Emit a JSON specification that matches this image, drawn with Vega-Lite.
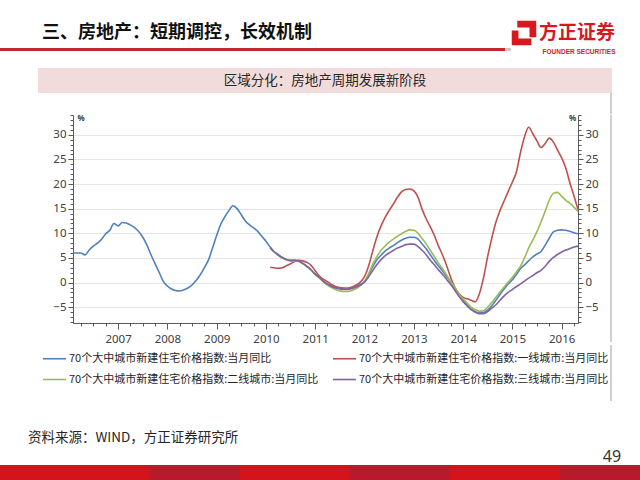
{
  "$schema": "https://vega.github.io/schema/vega-lite/v6.json",
  "background": "white",
  "padding": 0,
  "spacing": 0,
  "bounds": "full",
  "config": {"view": {"stroke": null}, "font": "Noto Sans CJK SC"},
  "datasets": {
    "blue": [
      {"d":"2006-02","v":6.0},{"d":"2006-03","v":6.0},{"d":"2006-04","v":6.0},{"d":"2006-05","v":5.6},{"d":"2006-06","v":6.6},{"d":"2006-07","v":7.4},{"d":"2006-08","v":8.0},{"d":"2006-09","v":8.8},{"d":"2006-10","v":9.9},{"d":"2006-11","v":10.6},{"d":"2006-12","v":12.0},
      {"d":"2007-01","v":11.5},{"d":"2007-02","v":12.2},{"d":"2007-03","v":12.1},{"d":"2007-04","v":11.7},{"d":"2007-05","v":11.2},{"d":"2007-06","v":10.4},{"d":"2007-07","v":9.3},{"d":"2007-08","v":7.7},{"d":"2007-09","v":5.7},{"d":"2007-10","v":3.9},{"d":"2007-11","v":2.1},{"d":"2007-12","v":0.3},
      {"d":"2008-01","v":-0.7},{"d":"2008-02","v":-1.3},{"d":"2008-03","v":-1.6},{"d":"2008-04","v":-1.7},{"d":"2008-05","v":-1.5},{"d":"2008-06","v":-1.1},{"d":"2008-07","v":-0.5},{"d":"2008-08","v":0.4},{"d":"2008-09","v":1.6},{"d":"2008-10","v":3.0},{"d":"2008-11","v":4.6},{"d":"2008-12","v":7.0},
      {"d":"2009-01","v":9.6},{"d":"2009-02","v":11.9},{"d":"2009-03","v":13.3},{"d":"2009-04","v":14.6},{"d":"2009-05","v":15.6},{"d":"2009-06","v":15.0},{"d":"2009-07","v":13.8},{"d":"2009-08","v":12.5},{"d":"2009-09","v":11.7},{"d":"2009-10","v":11.1},{"d":"2009-11","v":10.4},{"d":"2009-12","v":9.4},
      {"d":"2010-01","v":8.4},{"d":"2010-02","v":7.2},{"d":"2010-03","v":6.3},{"d":"2010-04","v":5.7},{"d":"2010-05","v":5.1},{"d":"2010-06","v":4.7},{"d":"2010-07","v":4.5},{"d":"2010-08","v":4.5},{"d":"2010-09","v":4.4},{"d":"2010-10","v":3.9},{"d":"2010-11","v":3.3},{"d":"2010-12","v":2.6},
      {"d":"2011-01","v":1.7},{"d":"2011-02","v":1.0},{"d":"2011-03","v":0.3},{"d":"2011-04","v":-0.3},{"d":"2011-05","v":-0.7},{"d":"2011-06","v":-1.0},{"d":"2011-07","v":-1.2},{"d":"2011-08","v":-1.3},{"d":"2011-09","v":-1.3},{"d":"2011-10","v":-1.1},{"d":"2011-11","v":-0.8},{"d":"2011-12","v":-0.4},
      {"d":"2012-01","v":0.2},{"d":"2012-02","v":1.6},{"d":"2012-03","v":3.2},{"d":"2012-04","v":4.6},{"d":"2012-05","v":5.5},{"d":"2012-06","v":6.4},{"d":"2012-07","v":7.0},{"d":"2012-08","v":7.5},{"d":"2012-09","v":8.1},{"d":"2012-10","v":8.6},{"d":"2012-11","v":9.0},{"d":"2012-12","v":9.2},
      {"d":"2013-01","v":9.2},{"d":"2013-02","v":8.8},{"d":"2013-03","v":7.9},{"d":"2013-04","v":6.9},{"d":"2013-05","v":5.7},{"d":"2013-06","v":4.5},{"d":"2013-07","v":3.4},{"d":"2013-08","v":2.4},{"d":"2013-09","v":1.2},{"d":"2013-10","v":0.0},{"d":"2013-11","v":-1.2},{"d":"2013-12","v":-2.5},
      {"d":"2014-01","v":-3.6},{"d":"2014-02","v":-4.6},{"d":"2014-03","v":-5.4},{"d":"2014-04","v":-5.9},{"d":"2014-05","v":-6.2},{"d":"2014-06","v":-6.1},{"d":"2014-07","v":-5.6},{"d":"2014-08","v":-4.7},{"d":"2014-09","v":-3.6},{"d":"2014-10","v":-2.4},{"d":"2014-11","v":-1.3},{"d":"2014-12","v":-0.3},
      {"d":"2015-01","v":0.6},{"d":"2015-02","v":1.7},{"d":"2015-03","v":2.8},{"d":"2015-04","v":3.6},{"d":"2015-05","v":4.4},{"d":"2015-06","v":5.2},{"d":"2015-07","v":5.8},{"d":"2015-08","v":6.3},{"d":"2015-09","v":7.6},{"d":"2015-10","v":9.0},{"d":"2015-11","v":10.3},{"d":"2015-12","v":10.6},
      {"d":"2016-01","v":10.7},{"d":"2016-02","v":10.6},{"d":"2016-03","v":10.4},{"d":"2016-04","v":10.1},{"d":"2016-05","v":9.9}
    ],
    "red": [
      {"d":"2010-02","v":3.1},{"d":"2010-03","v":3.0},{"d":"2010-04","v":2.9},{"d":"2010-05","v":3.0},{"d":"2010-06","v":3.4},{"d":"2010-07","v":3.8},{"d":"2010-08","v":4.3},{"d":"2010-09","v":4.5},{"d":"2010-10","v":4.4},{"d":"2010-11","v":4.1},{"d":"2010-12","v":3.5},
      {"d":"2011-01","v":2.4},{"d":"2011-02","v":1.3},{"d":"2011-03","v":0.7},{"d":"2011-04","v":0.2},{"d":"2011-05","v":-0.4},{"d":"2011-06","v":-0.8},{"d":"2011-07","v":-1.0},{"d":"2011-08","v":-1.1},{"d":"2011-09","v":-1.1},{"d":"2011-10","v":-0.9},{"d":"2011-11","v":-0.5},{"d":"2011-12","v":0.1},
      {"d":"2012-01","v":1.2},{"d":"2012-02","v":3.4},{"d":"2012-03","v":6.3},{"d":"2012-04","v":9.2},{"d":"2012-05","v":11.4},{"d":"2012-06","v":13.2},{"d":"2012-07","v":14.6},{"d":"2012-08","v":15.9},{"d":"2012-09","v":17.3},{"d":"2012-10","v":18.4},{"d":"2012-11","v":18.9},{"d":"2012-12","v":19.0},
      {"d":"2013-01","v":18.6},{"d":"2013-02","v":17.3},{"d":"2013-03","v":15.0},{"d":"2013-04","v":13.0},{"d":"2013-05","v":11.4},{"d":"2013-06","v":9.6},{"d":"2013-07","v":7.5},{"d":"2013-08","v":5.6},{"d":"2013-09","v":3.4},{"d":"2013-10","v":1.0},{"d":"2013-11","v":-1.0},{"d":"2013-12","v":-2.2},
      {"d":"2014-01","v":-3.0},{"d":"2014-02","v":-3.3},{"d":"2014-03","v":-3.6},{"d":"2014-04","v":-3.9},{"d":"2014-05","v":-2.3},{"d":"2014-06","v":1.0},{"d":"2014-07","v":5.2},{"d":"2014-08","v":9.0},{"d":"2014-09","v":12.3},{"d":"2014-10","v":14.6},{"d":"2014-11","v":16.6},{"d":"2014-12","v":18.5},
      {"d":"2015-01","v":20.4},{"d":"2015-02","v":22.6},{"d":"2015-03","v":26.3},{"d":"2015-04","v":29.6},{"d":"2015-05","v":31.5},{"d":"2015-06","v":30.2},{"d":"2015-07","v":28.8},{"d":"2015-08","v":27.4},{"d":"2015-09","v":28.2},{"d":"2015-10","v":29.3},{"d":"2015-11","v":28.5},{"d":"2015-12","v":26.9},
      {"d":"2016-01","v":25.3},{"d":"2016-02","v":23.2},{"d":"2016-03","v":20.3},{"d":"2016-04","v":17.6},{"d":"2016-05","v":14.8}
    ],
    "green": [
      {"d":"2010-02","v":7.0},{"d":"2010-03","v":6.2},{"d":"2010-04","v":5.5},{"d":"2010-05","v":5.0},{"d":"2010-06","v":4.6},{"d":"2010-07","v":4.4},{"d":"2010-08","v":4.4},{"d":"2010-09","v":4.3},{"d":"2010-10","v":3.8},{"d":"2010-11","v":3.2},{"d":"2010-12","v":2.5},
      {"d":"2011-01","v":1.6},{"d":"2011-02","v":0.9},{"d":"2011-03","v":0.2},{"d":"2011-04","v":-0.5},{"d":"2011-05","v":-1.0},{"d":"2011-06","v":-1.4},{"d":"2011-07","v":-1.7},{"d":"2011-08","v":-1.8},{"d":"2011-09","v":-1.8},{"d":"2011-10","v":-1.6},{"d":"2011-11","v":-1.2},{"d":"2011-12","v":-0.6},
      {"d":"2012-01","v":0.2},{"d":"2012-02","v":1.8},{"d":"2012-03","v":3.7},{"d":"2012-04","v":5.2},{"d":"2012-05","v":6.5},{"d":"2012-06","v":7.4},{"d":"2012-07","v":8.2},{"d":"2012-08","v":8.8},{"d":"2012-09","v":9.4},{"d":"2012-10","v":9.9},{"d":"2012-11","v":10.4},{"d":"2012-12","v":10.7},
      {"d":"2013-01","v":10.6},{"d":"2013-02","v":10.0},{"d":"2013-03","v":9.0},{"d":"2013-04","v":7.9},{"d":"2013-05","v":6.6},{"d":"2013-06","v":5.3},{"d":"2013-07","v":4.0},{"d":"2013-08","v":2.8},{"d":"2013-09","v":1.5},{"d":"2013-10","v":0.2},{"d":"2013-11","v":-1.0},{"d":"2013-12","v":-2.3},
      {"d":"2014-01","v":-3.3},{"d":"2014-02","v":-4.2},{"d":"2014-03","v":-5.0},{"d":"2014-04","v":-5.5},{"d":"2014-05","v":-5.8},{"d":"2014-06","v":-5.7},{"d":"2014-07","v":-5.0},{"d":"2014-08","v":-4.0},{"d":"2014-09","v":-3.0},{"d":"2014-10","v":-1.9},{"d":"2014-11","v":-0.9},{"d":"2014-12","v":0.1},
      {"d":"2015-01","v":1.1},{"d":"2015-02","v":2.2},{"d":"2015-03","v":3.3},{"d":"2015-04","v":5.0},{"d":"2015-05","v":7.0},{"d":"2015-06","v":8.6},{"d":"2015-07","v":10.3},{"d":"2015-08","v":12.3},{"d":"2015-09","v":14.5},{"d":"2015-10","v":16.7},{"d":"2015-11","v":18.1},{"d":"2015-12","v":18.3},
      {"d":"2016-01","v":17.5},{"d":"2016-02","v":16.7},{"d":"2016-03","v":16.1},{"d":"2016-04","v":15.3},{"d":"2016-05","v":14.4}
    ],
    "purple": [
      {"d":"2010-02","v":7.1},{"d":"2010-03","v":6.3},{"d":"2010-04","v":5.6},{"d":"2010-05","v":5.1},{"d":"2010-06","v":4.7},{"d":"2010-07","v":4.5},{"d":"2010-08","v":4.5},{"d":"2010-09","v":4.4},{"d":"2010-10","v":3.9},{"d":"2010-11","v":3.3},{"d":"2010-12","v":2.6},
      {"d":"2011-01","v":1.7},{"d":"2011-02","v":1.0},{"d":"2011-03","v":0.3},{"d":"2011-04","v":-0.3},{"d":"2011-05","v":-0.8},{"d":"2011-06","v":-1.1},{"d":"2011-07","v":-1.3},{"d":"2011-08","v":-1.4},{"d":"2011-09","v":-1.4},{"d":"2011-10","v":-1.2},{"d":"2011-11","v":-0.9},{"d":"2011-12","v":-0.5},
      {"d":"2012-01","v":0.1},{"d":"2012-02","v":1.2},{"d":"2012-03","v":2.4},{"d":"2012-04","v":3.6},{"d":"2012-05","v":4.6},{"d":"2012-06","v":5.4},{"d":"2012-07","v":6.0},{"d":"2012-08","v":6.5},{"d":"2012-09","v":7.0},{"d":"2012-10","v":7.3},{"d":"2012-11","v":7.7},{"d":"2012-12","v":7.8},
      {"d":"2013-01","v":7.8},{"d":"2013-02","v":7.3},{"d":"2013-03","v":6.6},{"d":"2013-04","v":5.7},{"d":"2013-05","v":4.6},{"d":"2013-06","v":3.6},{"d":"2013-07","v":2.6},{"d":"2013-08","v":1.7},{"d":"2013-09","v":0.6},{"d":"2013-10","v":-0.4},{"d":"2013-11","v":-1.6},{"d":"2013-12","v":-2.8},
      {"d":"2014-01","v":-3.9},{"d":"2014-02","v":-4.8},{"d":"2014-03","v":-5.5},{"d":"2014-04","v":-6.0},{"d":"2014-05","v":-6.3},{"d":"2014-06","v":-6.3},{"d":"2014-07","v":-5.9},{"d":"2014-08","v":-5.2},{"d":"2014-09","v":-4.5},{"d":"2014-10","v":-3.6},{"d":"2014-11","v":-2.7},{"d":"2014-12","v":-2.0},
      {"d":"2015-01","v":-1.4},{"d":"2015-02","v":-0.8},{"d":"2015-03","v":-0.3},{"d":"2015-04","v":0.3},{"d":"2015-05","v":0.9},{"d":"2015-06","v":1.4},{"d":"2015-07","v":2.0},{"d":"2015-08","v":2.5},{"d":"2015-09","v":3.3},{"d":"2015-10","v":4.3},{"d":"2015-11","v":5.1},{"d":"2015-12","v":5.7},
      {"d":"2016-01","v":6.2},{"d":"2016-02","v":6.6},{"d":"2016-03","v":6.9},{"d":"2016-04","v":7.2},{"d":"2016-05","v":7.4}
    ]
  },
  "vconcat": [
    {"width": 640, "height": 18, "data": {"values": []}, "mark": "rect"},
    {
      "hconcat": [
        {"width": 84, "height": 30, "data": {"values": [{"t": "三、房地产：短期调控，长效机制"}]}, "mark": {"type": "text", "align": "left", "baseline": "middle", "fontSize": 18, "fontWeight": "bold", "color": "#111111", "font": "Noto Sans CJK SC"}, "encoding": {"text": {"field": "t"}}},
        {"width": 428, "height": 30, "data": {"values": []}, "mark": "rect"},
        {"width": 24, "height": 30, "data": {"values": [{"t": "logo"}]}, "mark": {"type": "point", "filled": true, "opacity": 1, "color": "#d7191f", "size": 600, "shape": "M-0.55,-1 L1,-1 L1,0.35 L0.45,0.35 L0.45,-0.45 L-0.55,-0.45 Z M-1,-0.2 L-0.45,-0.2 L-0.45,0.45 L0.6,0.45 L0.6,1 L-1,1 Z"}},
        {"width": 82, "height": 30, "data": {"values": [{"t": "方正证券"}]}, "mark": {"type": "text", "align": "center", "baseline": "middle", "fontSize": 19, "fontWeight": "bold", "color": "#d7191f", "font": "Noto Sans CJK SC"}, "encoding": {"text": {"field": "t"}}},
        {"width": 22, "height": 30, "data": {"values": []}, "mark": "rect"}
      ],
      "spacing": 0, "bounds": "flush"
    },
    {
      "hconcat": [
        {"width": 505, "height": 3, "data": {"values": []}, "mark": "rect", "view": {"fill": "#c3262c"}},
        {"width": 6, "height": 3, "data": {"values": []}, "mark": "rect", "view": {"fill": "#c8c8c8"}},
        {"width": 27, "height": 3, "data": {"values": []}, "mark": "rect"},
        {"width": 82, "height": 8, "data": {"values": [{"t": "FOUNDER SECURITIES"}]}, "mark": {"type": "text", "align": "center", "baseline": "middle", "fontSize": 6.5, "fontWeight": "bold", "color": "#d7191f", "font": "Liberation Sans"}, "encoding": {"text": {"field": "t"}}}
      ],
      "spacing": 0, "bounds": "flush"
    },
    {"width": 640, "height": 12, "data": {"values": []}, "mark": "rect"},
    {
      "hconcat": [
        {"width": 38, "height": 25, "data": {"values": []}, "mark": "rect"},
        {"width": 574, "height": 25, "view": {"fill": "#f2dcdb"}, "data": {"values": [{"t": "区域分化：房地产周期发展新阶段"}]}, "mark": {"type": "text", "align": "center", "baseline": "middle", "fontSize": 13.5, "color": "#262626", "font": "Noto Sans CJK SC"}, "encoding": {"text": {"field": "t"}}}
      ],
      "spacing": 0, "bounds": "flush"
    },
    {
      "hconcat": [
        {"width": 610, "height": 21, "data": {"values": []}, "mark": "rect"},
        {"width": 2, "height": 21, "data": {"values": []}, "mark": "rect", "view": {"fill": "#cfcfcf"}}
      ],
      "spacing": 0, "bounds": "flush"
    },
    {
      "hconcat": [
        {"width": 73, "height": 208, "data": {"values": []}, "mark": "rect"},
        {
          "width": 505,
          "height": 208,
          "encoding": {
            "x": {
              "field": "d", "type": "temporal",
              "scale": {"type": "utc", "domain": [{"year": 2006, "month": 2, "date": 1, "utc": true}, {"year": 2016, "month": 5, "date": 1, "utc": true}]},
              "axis": {
                "title": null, "grid": false,
                "tickCount": {"interval": "month", "step": 3},
                "labelExpr": "utcmonth(datum.value) == 0 ? utcFormat(datum.value, '%Y') : ''",
                "tickSize": {"condition": {"test": "utcmonth(datum.value) == 0", "value": 6}, "value": 3},
                "domainColor": "#595959", "tickColor": "#595959", "labelColor": "#404040",
                "labelFont": "Noto Sans", "labelFontSize": 11.5, "labelPadding": 4,
                "labelOverlap": false, "labelFlush": false
              }
            }
          },
          "layer": [
            {
              "encoding": {
                "y": {
                  "field": "v", "type": "quantitative",
                  "scale": {"domain": [-8.2, 34], "nice": false, "zero": false},
                  "axis": {
                    "orient": "left",
                    "values": [-8,-7,-6,-5,-4,-3,-2,-1,0,1,2,3,4,5,6,7,8,9,10,11,12,13,14,15,16,17,18,19,20,21,22,23,24,25,26,27,28,29,30,31,32,33,34],
                    "labelExpr": "datum.value % 5 == 0 ? datum.label : ''",
                    "tickSize": {"condition": {"test": "datum.value % 5 == 0", "value": 5}, "value": 3},
                    "grid": true, "gridColor": "#e6e6e6",
                    "gridOpacity": {"condition": {"test": "datum.value % 5 == 0", "value": 1}, "value": 0},
                    "domainColor": "#595959", "tickColor": "#595959", "labelColor": "#404040",
                    "labelFont": "Noto Sans", "labelFontSize": 11.5, "labelPadding": 2,
                    "title": "%", "titleAngle": 0, "titleX": 4, "titleY": 3, "titleAlign": "left", "titleBaseline": "middle",
                    "titleFontSize": 8, "titleFontWeight": "bold", "titleColor": "#404040", "titleFont": "Noto Sans"
                  }
                }
              },
              "layer": [
                {
                  "data": {"name": "blue"},
                  "mark": {"type": "line", "strokeWidth": 1.6, "interpolate": "monotone"},
                  "encoding": {
                    "color": {
                      "datum": "70个大中城市新建住宅价格指数:当月同比", "type": "nominal",
                      "scale": {
                        "domain": ["70个大中城市新建住宅价格指数:当月同比", "70个大中城市新建住宅价格指数:一线城市:当月同比", "70个大中城市新建住宅价格指数:二线城市:当月同比", "70个大中城市新建住宅价格指数:三线城市:当月同比"],
                        "range": ["#4f81bd", "#c0504d", "#9bbb59", "#8064a2"]
                      },
                      "legend": {
                        "orient": "none", "legendX": 42, "legendY": 346, "direction": "horizontal", "columns": 2,
                        "title": null, "symbolType": "stroke", "symbolSize": 529, "symbolStrokeWidth": 1.6,
                        "labelFont": "Noto Sans CJK SC", "labelFontSize": 11, "labelColor": "#262626", "labelLimit": 400,
                        "labelOffset": 2, "columnPadding": 10, "rowPadding": 3, "padding": 0
                      }
                    }
                  }
                },
                {
                  "data": {"name": "red"},
                  "mark": {"type": "line", "strokeWidth": 1.6, "interpolate": "monotone"},
                  "encoding": {"color": {"datum": "70个大中城市新建住宅价格指数:一线城市:当月同比", "type": "nominal"}}
                },
                {
                  "data": {"name": "green"},
                  "mark": {"type": "line", "strokeWidth": 1.6, "interpolate": "monotone"},
                  "encoding": {"color": {"datum": "70个大中城市新建住宅价格指数:二线城市:当月同比", "type": "nominal"}}
                },
                {
                  "data": {"name": "purple"},
                  "mark": {"type": "line", "strokeWidth": 1.6, "interpolate": "monotone"},
                  "encoding": {"color": {"datum": "70个大中城市新建住宅价格指数:三线城市:当月同比", "type": "nominal"}}
                }
              ]
            },
            {
              "data": {"values": []},
              "mark": "point",
              "encoding": {
                "y": {
                  "field": "v", "type": "quantitative",
                  "axis": {
                    "orient": "right",
                    "values": [-8,-7,-6,-5,-4,-3,-2,-1,0,1,2,3,4,5,6,7,8,9,10,11,12,13,14,15,16,17,18,19,20,21,22,23,24,25,26,27,28,29,30,31,32,33,34],
                    "labelExpr": "datum.value % 5 == 0 ? datum.label : ''",
                    "tickSize": {"condition": {"test": "datum.value % 5 == 0", "value": 5}, "value": 3},
                    "grid": false,
                    "domainColor": "#595959", "tickColor": "#595959", "labelColor": "#404040",
                    "labelFont": "Noto Sans", "labelFontSize": 11.5, "labelPadding": 2,
                    "title": "%", "titleAngle": 0, "titleX": -6, "titleY": 3, "titleAlign": "center", "titleBaseline": "middle",
                    "titleFontSize": 8, "titleFontWeight": "bold", "titleColor": "#404040", "titleFont": "Noto Sans"
                  }
                }
              }
            }
          ],
          "resolve": {"axis": {"y": "independent"}}
        },
        {"width": 32, "height": 227, "data": {"values": []}, "mark": "rect"},
        {"width": 2, "height": 227, "data": {"values": []}, "mark": "rect", "view": {"fill": "#cfcfcf"}}
      ],
      "spacing": 0, "bounds": "flush"
    },
    {
      "hconcat": [
        {"width": 610, "height": 83, "data": {"values": []}, "mark": "rect"},
        {"width": 2, "height": 56, "data": {"values": []}, "mark": "rect", "view": {"fill": "#cfcfcf"}}
      ],
      "spacing": 0, "bounds": "flush"
    },
    {"width": 56, "height": 20, "data": {"values": [{"t": "资料来源：WIND，方正证券研究所"}]}, "mark": {"type": "text", "align": "left", "baseline": "middle", "fontSize": 13.5, "color": "#262626", "font": "Noto Sans CJK SC"}, "encoding": {"text": {"field": "t"}}},
    {
      "hconcat": [
        {"width": 594, "height": 17, "data": {"values": []}, "mark": "rect"},
        {"width": 36, "height": 17, "data": {"values": [{"t": "49"}]}, "mark": {"type": "text", "align": "center", "baseline": "middle", "fontSize": 16, "color": "#333333", "font": "Noto Sans"}, "encoding": {"text": {"field": "t"}}}
      ],
      "spacing": 0, "bounds": "flush"
    },
    {
      "hconcat": [
        {"width": 150, "height": 18, "data": {"values": []}, "mark": "rect", "view": {"fill": "#d3141c"}},
        {"width": 90, "height": 18, "data": {"values": []}, "mark": "rect", "view": {"fill": "#b91a2b"}},
        {"width": 110, "height": 18, "data": {"values": []}, "mark": "rect", "view": {"fill": "#d3141c"}},
        {"width": 100, "height": 18, "data": {"values": []}, "mark": "rect", "view": {"fill": "#b91a2b"}},
        {"width": 110, "height": 18, "data": {"values": []}, "mark": "rect", "view": {"fill": "#d3141c"}},
        {"width": 80, "height": 18, "data": {"values": []}, "mark": "rect", "view": {"fill": "#b91a2b"}}
      ],
      "spacing": 0, "bounds": "flush"
    }
  ]
}
